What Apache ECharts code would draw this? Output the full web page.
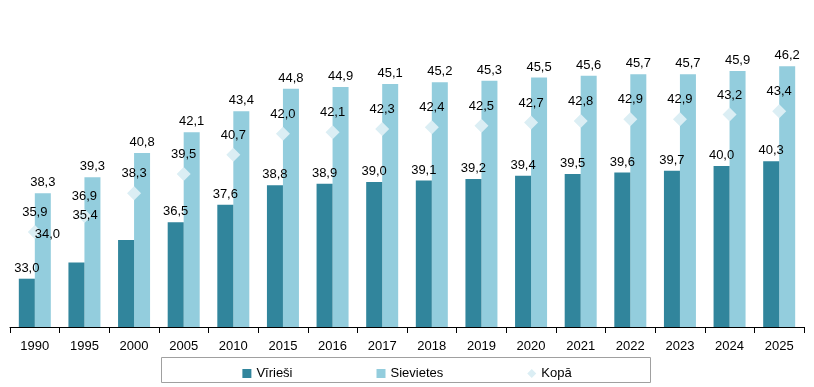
<!DOCTYPE html>
<html>
<head>
<meta charset="utf-8">
<script src="https://cdn.jsdelivr.net/npm/echarts@6/dist/echarts.min.js"></script>
<style>html,body{margin:0;padding:0;background:#fff;}#c{width:814px;height:387px;}</style>
</head>
<body>
<div id="c"></div>
<script>
var years = ['1990','1995','2000','2005','2010','2015','2016','2017','2018','2019','2020','2021','2022','2023','2024','2025'];
var men = [33.0, 34.0, 35.4, 36.5, 37.6, 38.8, 38.9, 39.0, 39.1, 39.2, 39.4, 39.5, 39.6, 39.7, 40.0, 40.3];
var women = [38.3, 39.3, 40.8, 42.1, 43.4, 44.8, 44.9, 45.1, 45.2, 45.3, 45.5, 45.6, 45.7, 45.7, 45.9, 46.2];
var total = [35.9, 36.9, 38.3, 39.5, 40.7, 42.0, 42.1, 42.3, 42.4, 42.5, 42.7, 42.8, 42.9, 42.9, 43.2, 43.4];

var FONT = 'Liberation Sans, Arial, sans-serif';
function fmt(p){ return p.value.toFixed(1).replace('.', ','); }
var lbl = {show:true, position:'top', distance:4, color:'#000', fontSize:13, fontFamily:FONT, formatter: fmt};

var menData = men.map(function(v, i){
  var d = {value: v};
  if (i === 1) d.label = {offset:[-29,-18]};
  if (i === 2) d.label = {offset:[-41,-14]};
  return d;
});

var chart = echarts.init(document.getElementById('c'), null, {renderer:'canvas'});
chart.setOption({
  animation:false,
  textStyle:{fontFamily:FONT},
  grid:{left:10, right:10, top:5, bottom:60, containLabel:false},
  xAxis:{
    type:'category', data:years,
    axisLine:{lineStyle:{color:'#000', width:1}},
    axisTick:{show:true, length:6, lineStyle:{color:'#000'}},
    axisLabel:{color:'#000', fontSize:13, fontFamily:FONT, margin:13, interval:0}
  },
  yAxis:{type:'value', min:30, max:50, show:false, splitLine:{show:false}},
  legend:{
    left:'center', top:362, itemGap:84, itemWidth:9, itemHeight:9,
    textStyle:{color:'#000', fontSize:13, fontFamily:FONT},
    data:[{name:'Vīrieši', icon:'rect'},{name:'Sievietes', icon:'rect'},{name:'Kopā', icon:'diamond'}]
  },
  graphic:[{type:'rect', shape:{x:161.5, y:357.5, width:489, height:25}, style:{fill:'none', stroke:'#a0a0a0', lineWidth:1}, silent:true}],
  series:[
    {name:'Vīrieši', type:'bar', data:menData, barWidth:16, barGap:'0%', itemStyle:{color:'#31859C'}, label:lbl, z:6},
    {name:'Sievietes', type:'bar', data:women, barWidth:16, itemStyle:{color:'#93CDDD'}, label:lbl},
    {name:'Kopā', type:'scatter', data:total, symbol:'diamond', symbolSize:14, itemStyle:{color:'#DBEEF4', opacity:1}, label:{show:true, position:'top', distance:6, color:'#000', fontSize:13, fontFamily:FONT, formatter:fmt}, z:5}
  ]
});
</script>
</body>
</html>
